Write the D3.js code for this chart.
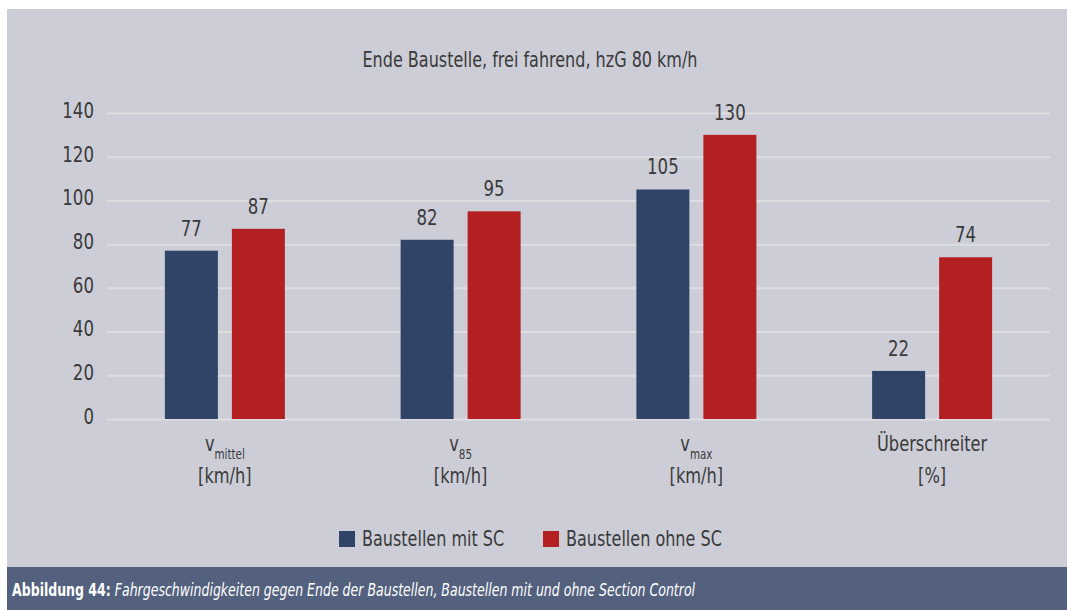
<!DOCTYPE html>
<html>
<head>
<meta charset="utf-8">
<script src="https://cdn.jsdelivr.net/npm/d3@7/dist/d3.min.js"></script>
<style>
  html, body { margin: 0; padding: 0; background: #ffffff; }
  svg text { font-family: "DejaVu Sans Condensed", "Liberation Sans Narrow", "Roboto", sans-serif; }
</style>
</head>
<body>
<svg id="chart" width="1067" height="610"></svg>
<script>
// Chart data
const categories = ["vmittel", "v85", "vmax", "ueber"];
const categoryMain = ["v", "v", "v", "Überschreiter"];
const categorySub = ["mittel", "85", "max", ""];
const categoryUnit = ["[km/h]", "[km/h]", "[km/h]", "[%]"];
const seriesNames = ["Baustellen mit SC", "Baustellen ohne SC"];
const mitSC = [77, 82, 105, 22];
const ohneSC = [87, 95, 130, 74];
const yTicks = [0, 20, 40, 60, 80, 100, 120, 140];
const titleText = "Ende Baustelle, frei fahrend, hzG 80 km/h";
const captionBold = "Abbildung 44:";
const captionItalic = " Fahrgeschwindigkeiten gegen Ende der Baustellen, Baustellen mit und ohne Section Control";

const colors = ["#2f4466", "#b41f22"];
const textColor = "#3a3a3a";

const svg = d3.select("#chart");

// Narrow the text horizontally around its own anchor point
function squeeze(sel, sx) {
  sel.each(function () {
    const t = d3.select(this);
    const tx = +t.attr("x") || 0, ty = +t.attr("y") || 0;
    t.attr("transform", `translate(${tx},${ty}) scale(${sx},1) translate(${-tx},${-ty})`);
  });
}

// Panel background and caption band
svg.append("rect").attr("x", 7).attr("y", 9).attr("width", 1060).attr("height", 558).attr("fill", "#cccdd7");
svg.append("rect").attr("x", 7).attr("y", 567).attr("width", 1060).attr("height", 43).attr("fill", "#53617e");

const plot = { left: 107, right: 1050, top: 113, bottom: 419 };

const x = d3.scaleBand().domain(categories).range([plot.left, plot.right]).padding(0);
const y = d3.scaleLinear().domain([0, 140]).range([plot.bottom, plot.top]);

const barW = 53, gap = 14;
const offsets = [-(gap / 2 + barW), gap / 2];

// Grid lines
svg.append("g").selectAll("line").data(yTicks).join("line")
  .attr("x1", plot.left).attr("x2", plot.right)
  .attr("y1", d => y(d) + 0.5).attr("y2", d => y(d) + 0.5)
  .attr("stroke", "#dedee0").attr("stroke-width", 2);

// Y axis labels
const yAxis = d3.axisLeft(y).tickValues(yTicks).tickSize(0).tickPadding(0);
const gy = svg.append("g").attr("transform", `translate(94,0)`).call(yAxis);
gy.select(".domain").remove();
gy.selectAll("text").attr("fill", textColor).attr("font-size", 22)
  .attr("font-family", "'DejaVu Sans Condensed', sans-serif")
  .attr("dy", "0.2em")
  .attr("transform", "scale(0.84,1)");

// Bars
const series = [mitSC, ohneSC];
series.forEach((vals, si) => {
  const g = svg.append("g");
  g.selectAll("rect").data(vals).join("rect")
    .attr("x", (d, i) => x(categories[i]) + x.bandwidth() / 2 + offsets[si])
    .attr("y", d => y(d))
    .attr("width", barW)
    .attr("height", d => y(0) - y(d))
    .attr("fill", colors[si]);
  g.selectAll("text").data(vals).join("text")
    .attr("x", (d, i) => x(categories[i]) + x.bandwidth() / 2 + offsets[si] + barW / 2)
    .attr("y", d => y(d) - 15)
    .attr("text-anchor", "middle")
    .attr("fill", textColor)
    .attr("font-size", 22)
    .text(d => d)
    .call(squeeze, 0.84);
});

// Category labels
const catG = svg.append("g");
categories.forEach((c, i) => {
  const cx = x(c) + x.bandwidth() / 2;
  const t = catG.append("text").attr("x", cx).attr("y", 451).attr("text-anchor", "middle")
    .attr("fill", textColor).attr("font-size", 22);
  t.append("tspan").text(categoryMain[i]);
  if (categorySub[i]) {
    t.append("tspan").attr("font-size", 14).attr("dy", 8).text(categorySub[i]);
  }
  t.call(squeeze, 0.82);
  catG.append("text").attr("x", cx).attr("y", 483).attr("text-anchor", "middle")
    .attr("fill", textColor).attr("font-size", 22).text(categoryUnit[i])
    .call(squeeze, 0.82);
});

// Title
svg.append("text").attr("x", 530).attr("y", 67).attr("text-anchor", "middle")
  .attr("fill", textColor).attr("font-size", 22).text(titleText)
  .call(squeeze, 0.81);

// Legend
const legendX = [339, 543];
seriesNames.forEach((name, i) => {
  svg.append("rect").attr("x", legendX[i]).attr("y", 531).attr("width", 16).attr("height", 16).attr("fill", colors[i]);
  svg.append("text").attr("x", legendX[i] + 23).attr("y", 546).attr("fill", textColor)
    .attr("font-size", 22).text(name)
    .call(squeeze, 0.81);
});

// Caption
const cap = svg.append("text").attr("x", 12).attr("y", 596).attr("fill", "#ffffff").attr("font-size", 17);
cap.append("tspan").attr("font-weight", "bold").text(captionBold);
cap.append("tspan").attr("font-style", "italic").text(captionItalic);
cap.call(squeeze, 0.82);
</script>
</body>
</html>
